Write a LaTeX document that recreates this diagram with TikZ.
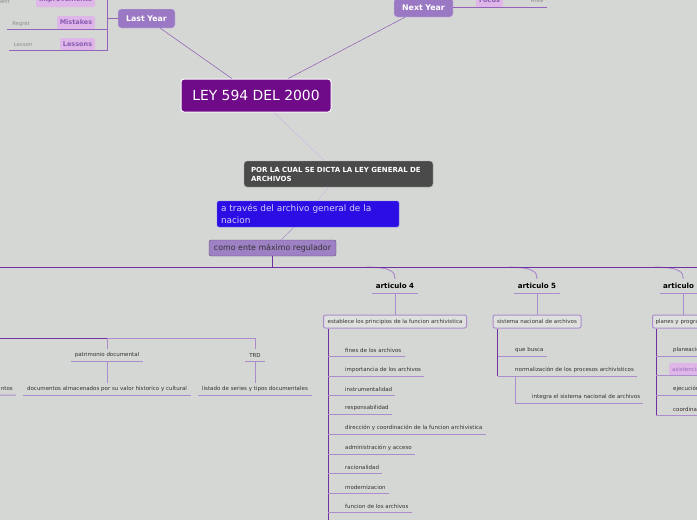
\documentclass[tikz,border=0pt]{standalone}
\usepackage{fontspec}
\setmainfont{DejaVu Sans}
\usetikzlibrary{positioning}
\definecolor{mmbg}{RGB}{213,215,212}
\definecolor{mmdark}{RGB}{112,48,160}
\definecolor{mmlilac}{RGB}{172,140,205}
\definecolor{mmyear}{RGB}{155,120,195}
\definecolor{mmpink}{RGB}{222,182,232}
\definecolor{mmley}{RGB}{111,10,136}
\definecolor{mmgrey}{RGB}{74,74,74}
\definecolor{mmblue}{RGB}{42,14,228}
\definecolor{mmbluetxt}{RGB}{215,205,255}
\definecolor{mmreg}{RGB}{158,128,196}
\definecolor{mmtxt}{RGB}{50,50,50}

\begin{document}
\begin{tikzpicture}[x=1pt,y=-1pt,
  yr/.style={draw=white!60!mmyear,fill=mmyear,rounded corners=3pt,text=white,font=\fontsize{7.8}{9}\selectfont\bfseries,inner sep=0pt},
  pk/.style={fill=mmpink,rounded corners=2pt,text=mmdark!80,font=\fontsize{6.5}{8}\selectfont\bfseries,inner sep=0pt},
  lbl/.style={text=black!45,font=\fontsize{5.3}{6}\selectfont,inner sep=0pt},
  art/.style={font=\fontsize{7.1}{8}\selectfont\bfseries,minimum width=46pt,minimum height=14pt,inner sep=0pt},
  sbx/.style={draw=mmlilac,line width=1pt,fill=white!25!mmbg,rounded corners=2pt,font=\fontsize{5.5}{6}\selectfont,text=mmtxt,minimum height=13pt,inner sep=3pt},
  it/.style={anchor=west,font=\fontsize{5.5}{6}\selectfont,text=mmtxt,minimum height=12pt,inner xsep=3pt,inner ysep=0pt},
  trunk/.style={mmdark,line width=1.2pt},
  leaf/.style={mmlilac,line width=1pt},
  yrline/.style={mmdark!75,line width=0.8pt},
  thin/.style={line width=0.5pt}]
  \useasboundingbox (0,0) rectangle (697,520);
  \fill[mmbg] (0,0) rectangle (697,520);
  \clip (0,0) rectangle (697,520);

  \node[yr,minimum width=57pt,minimum height=19pt] (last) at (146.5,18.5) {Last Year};
  \node[yr,minimum width=59pt,minimum height=19pt] (next) at (423.5,7.5) {Next Year};
  \node[pk,minimum width=59pt,minimum height=14pt] (impr) at (65.5,0) {Improvements};
  \node[pk,minimum width=38pt,minimum height=13pt] (mist) at (76,22.5) {Mistakes};
  \node[pk,minimum width=35pt,minimum height=12pt] (less) at (77.5,44) {Lessons};
  \node[pk,minimum width=27pt,minimum height=14pt] (focus) at (489.5,0) {Focus};
  \node[lbl,anchor=east] (imprl) at (10,2) {Improvement};
  \node[lbl] (regret) at (21,24) {Regret};
  \node[lbl] (lesson) at (23,45) {Lesson};
  \node[lbl] (area) at (537,1) {Area};
  \coordinate (tl) at (107,0);

  \node[draw=white,line width=1pt,fill=mmley,rounded corners=3pt,text=white,font=\fontsize{13.9}{16}\selectfont,minimum width=150pt,minimum height=33pt] (ley) at (256,95.5) {LEY 594 DEL 2000};
  \node[draw=white!60!mmgrey,fill=mmgrey,rounded corners=3pt,text=white,font=\fontsize{7}{9}\selectfont\bfseries,text width=175pt,align=left,minimum height=26pt,inner xsep=7pt] (por) at (338.5,174) {POR LA CUAL SE DICTA LA LEY GENERAL DE\\ARCHIVOS};
  \node[fill=mmblue,draw=mmblue!60!white,rounded corners=2pt,text=mmbluetxt,font=\fontsize{8.9}{11.5}\selectfont,text width=174pt,align=left,minimum height=26pt,inner xsep=4pt,inner ysep=1pt] (blue) at (308,214) {a través del archivo general de la\\nacion};
  \node[fill=mmreg,draw=mmreg!60!black,rounded corners=2pt,text=black!80,font=\fontsize{7.9}{9}\selectfont,minimum width=127pt,minimum height=16pt,inner sep=0pt] (reg) at (272.5,248) {como ente máximo regulador};

  \node[art] (a4) at (395,286) {articulo 4};
  \node[art] (a5) at (537,286) {articulo 5};
  \node[art,anchor=west,text width=40pt,align=left,inner xsep=3pt] (a6) at (660,286) {articulo};
  \node[sbx,minimum width=143pt] (est) at (395,321.5) {establece los principios de la funcion archivistica};
  \node[sbx,minimum width=88pt] (sis) at (537,321.5) {sistema nacional de archivos};
  \node[sbx,anchor=west,text width=80pt,align=left] (plan) at (652,321.5) {planes y programas};

  \node[it] (fin) at (342,350) {fines de los archivos};
  \node[it] (imp) at (342,370) {importancia de los archivos};
  \node[it] (ins) at (342,389) {instrumentalidad};
  \node[it] (res) at (342,408) {responsabilidad};
  \node[it] (dir) at (342,428) {dirección y coordinación de la funcion archivistica};
  \node[it] (adm) at (342,448) {administración y acceso};
  \node[it] (rac) at (342,467) {racionalidad};
  \node[it] (mod) at (342,487) {modernizacion};
  \node[it] (fun) at (342,506) {funcion de los archivos};

  \node[it] (que) at (512,350) {que busca};
  \node[it] (nor) at (512,370) {normalización de los procesos archivísticos};
  \node[it] (int) at (529,397) {integra el sistema nacional de archivos};

  \node[it] (pla) at (670,350) {planeación};
  \node[it,fill=mmpink,rounded corners=2pt,text=mmdark!70] (asi) at (669,369) {asistencia};
  \node[it] (eje) at (670,389) {ejecución};
  \node[it] (coo) at (670,409) {coordinación};

  \node[it,anchor=center,minimum width=72pt] (pat) at (107,355) {patrimonio documental};
  \node[it,anchor=center,minimum width=168pt] (doc) at (107,389) {documentos almacenados por su valor historico y cultural};
  \node[it,anchor=center,minimum width=20pt] (trd) at (255,355) {TRD};
  \node[it,anchor=center,minimum width=114pt] (lis) at (255,389) {listado de series y tipos documentales};
  \node[it,anchor=east] (nto) at (16,389) {ntos};
  \coordinate (lft) at (0,338);
  \coordinate (nl) at (0,395);

  \draw[yrline] (tl) -- (tl |- less.south) -- ([xshift=-5pt]lesson.west |- less.south);
  \draw[yrline] (tl |- mist.south) -- ([xshift=-5pt]regret.west |- mist.south);
  \draw[yrline] (tl |- last.west) -- (last.west);
  \draw[yrline] (next.east) -- ([xshift=4pt]area.east |- next.east);
  \draw[mmdark!80,thin] (last) -- (ley);
  \draw[mmdark!80,thin] (next) -- (ley);
  \draw[mmlilac!60!white,thin] (ley) -- (por);
  \draw[mmlilac!60!white,thin] (por) -- (blue);
  \draw[mmlilac,thin] (blue) -- (reg);

  \draw[trunk] (reg.south) -- ++(0,11) coordinate (hub);
  \draw[leaf] ([xshift=-28pt]hub -| a4.north) .. controls ([xshift=-2pt]hub -| a4.north) and ([yshift=6pt]a4.north) .. (a4.north);
  \draw[leaf] ([xshift=-28pt]hub -| a5.north) .. controls ([xshift=-2pt]hub -| a5.north) and ([yshift=6pt]a5.north) .. (a5.north);
  \draw[leaf] ([xshift=-28pt]hub -| a6.north) .. controls ([xshift=-2pt]hub -| a6.north) and ([yshift=6pt]a6.north) .. (a6.north);
  \draw[trunk] (hub -| lft) -- (hub -| 697,0);

  \draw[leaf] (a4.south west) -- (a4.south east);
  \draw[leaf] (a5.south west) -- (a5.south east);
  \draw[leaf] (a6.south west) -- (a6.south east);
  \draw[leaf] (a4.south) -- (est.north);
  \draw[leaf] (a5.south) -- (sis.north);
  \draw[leaf] (a6.south) -- (a6.south |- plan.north);

  \coordinate (v4) at ([xshift=5pt]est.south west);
  \draw[trunk,line width=1pt] (v4) -- ++(0,200);
  \draw[leaf] (v4 |- fin.south) -- (fin.south east);
  \draw[leaf] (v4 |- imp.south) -- (imp.south east);
  \draw[leaf] (v4 |- ins.south) -- (ins.south east);
  \draw[leaf] (v4 |- res.south) -- (res.south east);
  \draw[leaf] (v4 |- dir.south) -- (dir.south east);
  \draw[leaf] (v4 |- adm.south) -- (adm.south east);
  \draw[leaf] (v4 |- rac.south) -- (rac.south east);
  \draw[leaf] (v4 |- mod.south) -- (mod.south east);
  \draw[leaf] (v4 |- fun.south) -- (fun.south east);

  \coordinate (v5) at ([xshift=5pt]sis.south west);
  \draw[trunk,line width=1pt] (v5) -- (v5 |- nor.south);
  \draw[leaf] (v5 |- que.south) -- (que.south east);
  \draw[leaf] (v5 |- nor.south) -- (nor.south east);
  \draw[leaf] ([xshift=3pt]nor.south west) -- ([xshift=3pt]nor.south west |- int.south) -- (int.south east);

  \coordinate (v6) at ([xshift=4pt]plan.south west);
  \draw[trunk,line width=1pt] (v6) -- (v6 |- coo.south);
  \draw[leaf] (v6 |- pla.south) -- (pla.south east);
  \draw[leaf] (v6 |- asi.south) -- (asi.south east);
  \draw[leaf] (v6 |- eje.south) -- (eje.south east);
  \draw[leaf] (v6 |- coo.south) -- (coo.south east);

  \draw[trunk,line width=1pt] (lft) -- (lft -| pat.north);
  \draw[leaf] (lft -| pat.north) -- (lft -| trd.north) -- (trd.north);
  \draw[leaf] (lft -| pat.north) -- (pat.north);
  \draw[leaf] (pat.south) -- (doc.north);
  \draw[leaf] (trd.south) -- (lis.north);
  \draw[leaf] (pat.south west) -- (pat.south east);
  \draw[leaf] (doc.south west) -- (doc.south east);
  \draw[leaf] (trd.south west) -- (trd.south east);
  \draw[leaf] (lis.south west) -- (lis.south east);
  \draw[leaf] (nl) -- (nto.south east);
\end{tikzpicture}
\end{document}
